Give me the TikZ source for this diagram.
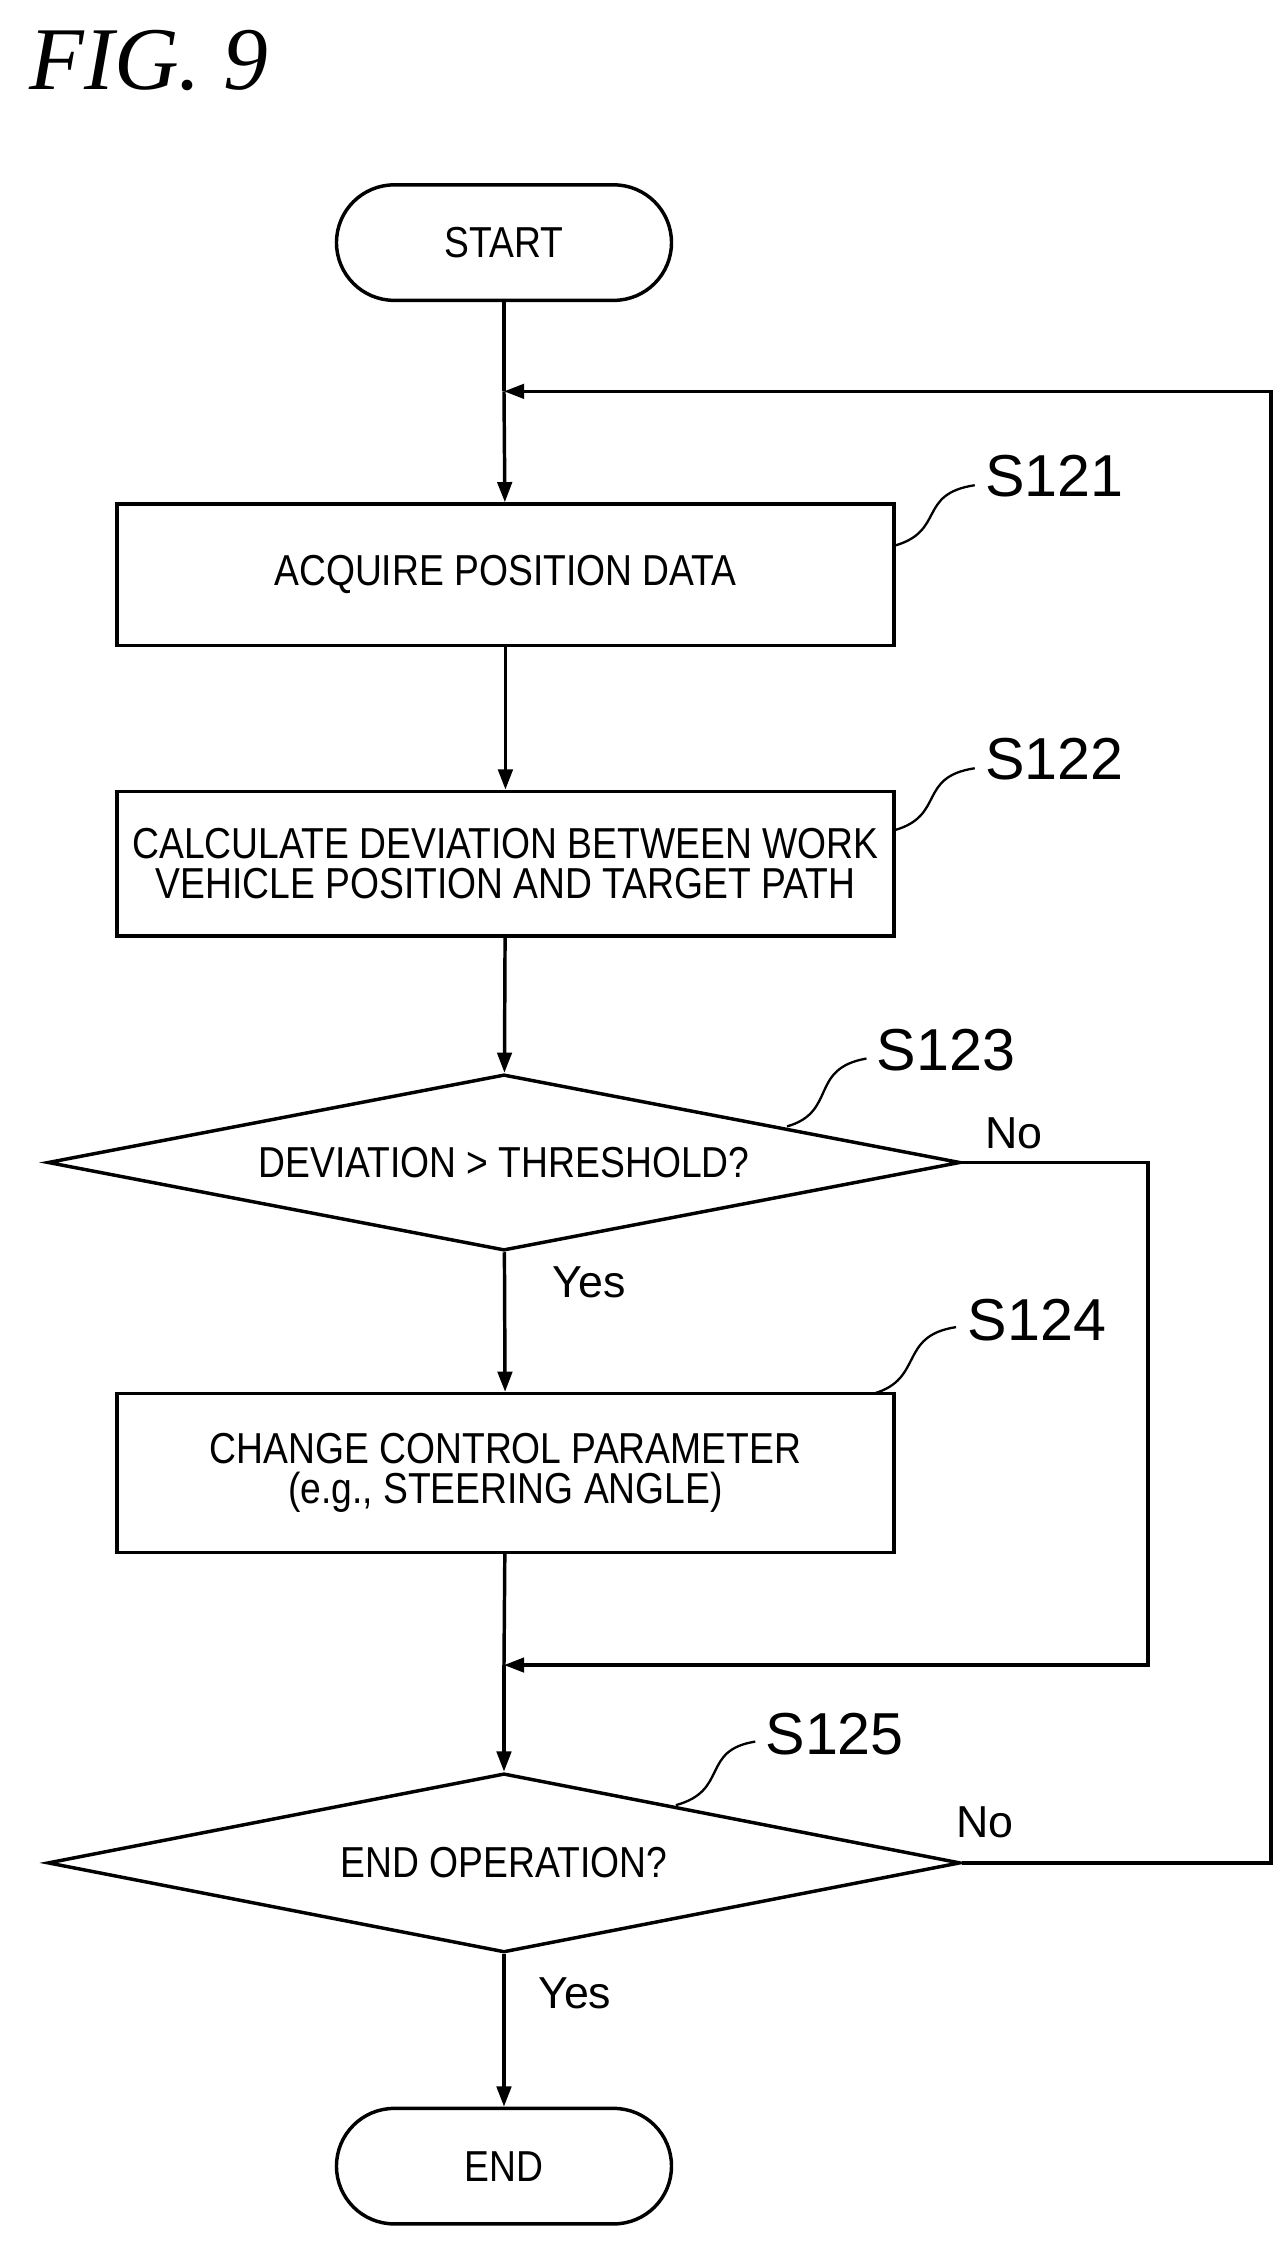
\documentclass[tikz,border=0pt]{standalone}
\usepackage{fontspec}
\setmainfont{Liberation Sans}
\newfontfamily\cond[FakeStretch=0.86]{Liberation Sans}
\newfontfamily\titlefont{Liberation Serif}
\usetikzlibrary{shapes.geometric,arrows.meta}
\begin{document}
\begin{tikzpicture}[x=1pt,y=-1pt,line width=2.4pt,
  box/.style={draw,minimum width=538pt,minimum height=98pt,align=center,font=\cond\fontsize{30}{28}\selectfont},
  term/.style={draw,rounded corners=40pt,minimum width=232pt,minimum height=80pt,font=\cond\fontsize{30}{28}\selectfont},
  dia/.style={draw,diamond,aspect=5.18,minimum width=632pt,minimum height=122pt,inner sep=0pt,font=\cond\fontsize{30}{28}\selectfont},
  lab/.style={font=\fontsize{41}{44}\selectfont},
  yn/.style={font=\fontsize{31}{34}\selectfont},
  arr/.style={-{Triangle[length=14pt,width=10pt]}},
  lead/.style={line width=1.6pt}]
\useasboundingbox (0,0) rectangle (890,1565);
\node[anchor=west,font=\titlefont\itshape\fontsize{62}{66}\selectfont] (title) at (16,42) {FIG. 9};
\node[term] (start) at (349,168) {START};
\node[box] (s121) at (350,398) {ACQUIRE POSITION DATA};
\node[box,minimum height=100pt] (s122) at (350,598) {CALCULATE DEVIATION BETWEEN WORK\\VEHICLE POSITION AND TARGET PATH};
\node[dia] (s123) at (349,805) {DEVIATION > THRESHOLD?};
\node[box,minimum height=110pt] (s124) at (350,1020) {CHANGE CONTROL PARAMETER\\(e.g., STEERING ANGLE)};
\node[dia,minimum height=124pt] (s125) at (349,1290) {END OPERATION?};
\node[term] (end) at (349,1500) {END};
\coordinate (loopin) at (349,271);
\coordinate (loopr) at (880,271);
\coordinate (lr) at (880,1290);
\coordinate (mergein) at (349,1153);
\coordinate (m1) at (795,805);
\coordinate (m2) at (795,1153);
\draw (start) -- (loopin);
\draw[arr] (loopin) -- (s121);
\draw[arr] (s121) -- (s122);
\draw[arr] (s122) -- (s123);
\draw[arr] (s123) -- (s124);
\draw (s124) -- (mergein);
\draw[arr] (mergein) -- (s125);
\draw[arr] (s125) -- (end);
\draw[arr] (s123.east) -- (m1) -- (m2) -- (mergein);
\draw[arr] (s125.east) -- (lr) -- (loopr) -- (loopin);
\node[yn] (no1) at (702,785) {No};
\node[yn] (yes1) at (408,888) {Yes};
\node[yn] (no2) at (682,1262) {No};
\node[yn] (yes2) at (398,1380) {Yes};
\node[lab] (l121) at (730,330) {S121};
\node[lab] (l122) at (730,526) {S122};
\node[lab] (l123) at (655,727) {S123};
\node[lab] (l124) at (718,914) {S124};
\node[lab] (l125) at (578,1201) {S125};
\draw[lead] (619,378) .. controls (655,368) and (635,342) .. (675,336);
\draw[lead] (619,575) .. controls (655,565) and (635,538) .. (675,532);
\draw[lead] (545,780) .. controls (580,770) and (560,740) .. (600,733);
\draw[lead] (605,965) .. controls (640,955) and (622,925) .. (662,919);
\draw[lead] (468,1250) .. controls (505,1240) and (485,1212) .. (523,1206);
\end{tikzpicture}
\end{document}
